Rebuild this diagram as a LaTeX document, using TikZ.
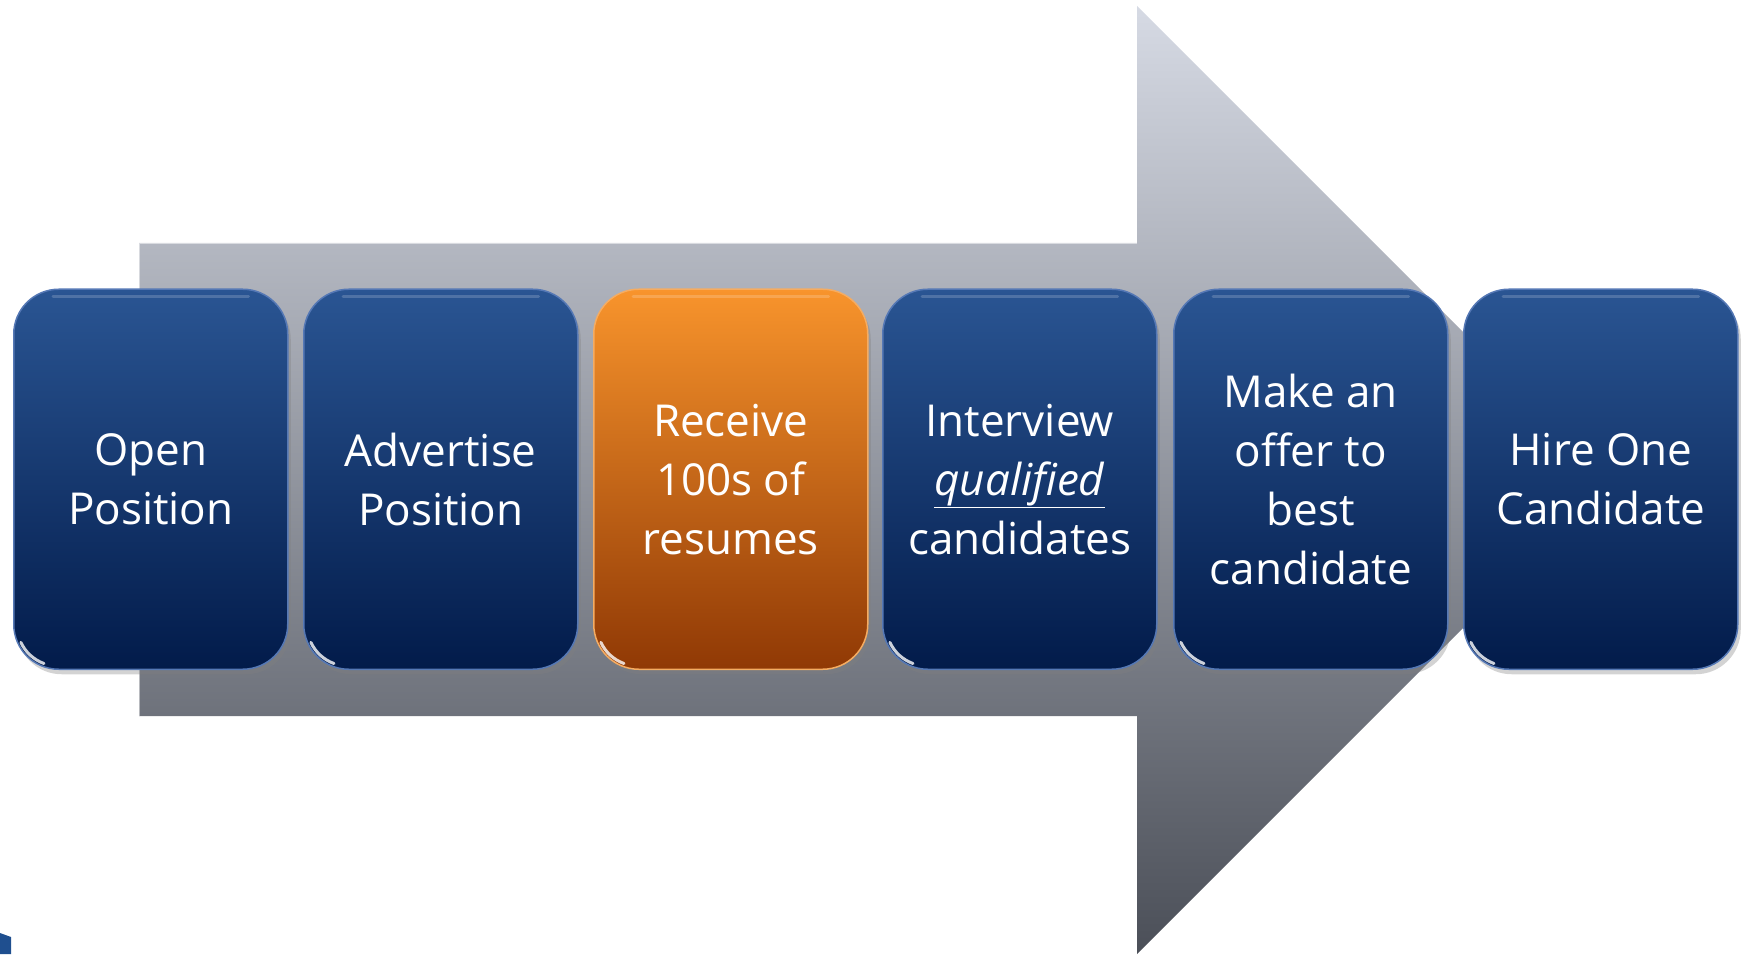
\documentclass[tikz,border=0pt]{standalone}
\usepackage{fontspec}
\setmainfont{Open Sans}
\usetikzlibrary{shadows}
\definecolor{arrowtop}{HTML}{D6DAE4}
\definecolor{arrowbot}{HTML}{4B4F58}
\definecolor{bluetop}{HTML}{2A5593}
\definecolor{bluemid}{HTML}{0C306E}
\definecolor{bluebot}{HTML}{021B4A}
\definecolor{bluerim}{HTML}{5578B5}
\definecolor{orangetop}{HTML}{F8942C}
\definecolor{orangemid}{HTML}{E1680D}
\definecolor{orangebot}{HTML}{903905}
\definecolor{orangerim}{HTML}{F5AC62}
\definecolor{cornerblue}{HTML}{1F4F8F}
\begin{document}
\begin{tikzpicture}[x=1pt,y=1pt,
  stepbox/.style={rounded corners=45pt, minimum width=274pt, minimum height=380pt,
    inner sep=0pt, text=white, align=center, font=\fontsize{44}{59}\selectfont,
    top color=bluetop, middle color=bluemid, bottom color=bluebot,
    draw=bluerim, line width=1.5pt,
    drop shadow={opacity=0.35, shadow xshift=3pt, shadow yshift=-5pt},
    anchor=south west},
  hotbox/.style={stepbox, top color=orangetop, middle color=orangemid,
    bottom color=orangebot, draw=orangerim},
  glint/.style={white, opacity=0.8, line width=3pt, line cap=round},
  toplight/.style={white, opacity=0.18, line width=3pt, line cap=round}
]
\useasboundingbox (0,0) rectangle (1747,954);
% big arrow
\shade[top color=arrowtop, bottom color=arrowbot]
  (139,238) -- (139,711) -- (1137,711) -- (1137,948) -- (1611,474)
  -- (1137,0) -- (1137,238) -- cycle;
\draw[white, opacity=0.5, line width=1.5pt] (139,238) -- (139,711) -- (1137,711);
% corner fragment
\fill[cornerblue] (0,0) -- (11,0) -- (11,17) -- (0,21) -- cycle;
% steps
\node[stepbox] (b1) at (13,284) {Open\\Position};
\node[stepbox] (b2) at (303,284) {Advertise\\Position};
\node[hotbox]  (b3) at (593,284) {Receive\\100s of\\resumes};
\node[stepbox] (b4) at (882,284) {Interview\\\underline{\textit{qualified}}\\candidates};
\node[stepbox] (b5) at (1173,284) {Make an\\offer to\\best\\candidate};
\node[stepbox] (b6) at (1463,284) {Hire One\\Candidate};
\foreach \b in {b1,b2,b3,b4,b5,b6}{
  \draw[glint] ([shift={(45,45)}]\b.south west) ++(205:41) arc[start angle=205, end angle=250, radius=41];
  \draw[toplight] ([shift={(40,-8)}]\b.north west) -- ([shift={(-40,-8)}]\b.north east);
}
\end{tikzpicture}
\end{document}
